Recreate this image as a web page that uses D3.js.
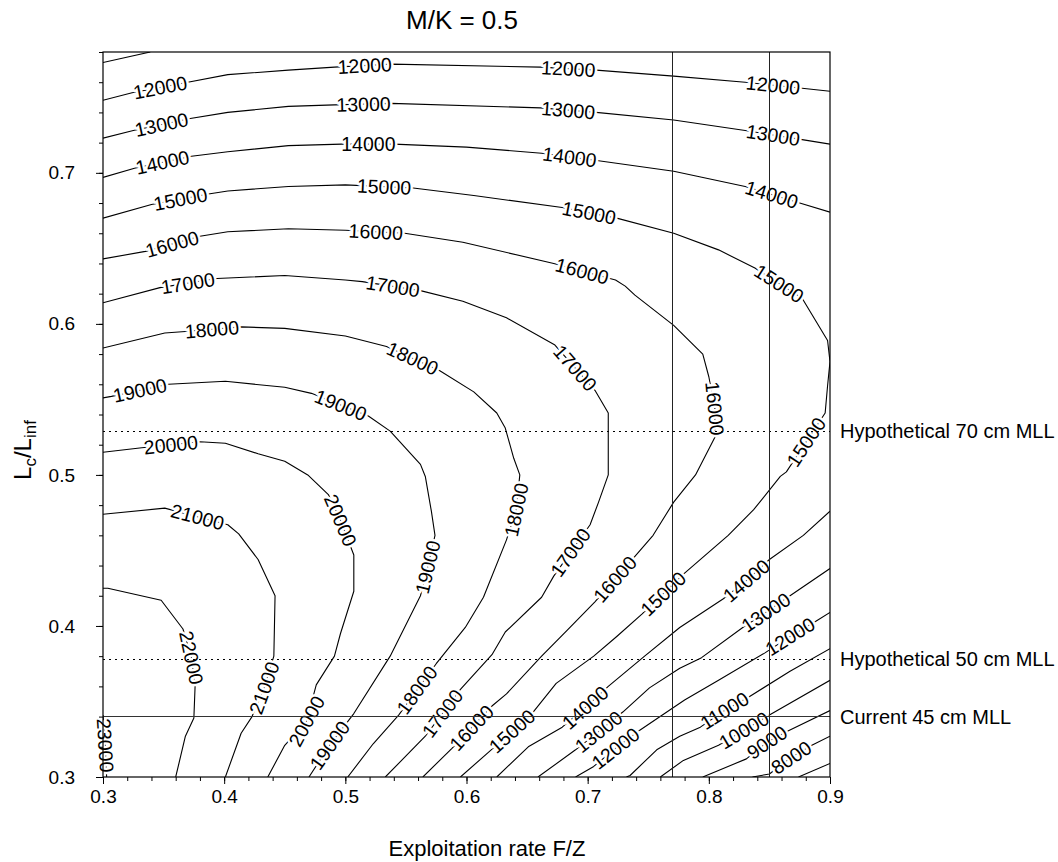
<!DOCTYPE html>
<html>
<head>
<meta charset="utf-8">
<script src="https://cdn.jsdelivr.net/npm/d3@7"></script>
<style>
  body { margin: 0; background: #fff; }
  text { font-family: "Liberation Sans", Arial, Helvetica, sans-serif; fill: #000; }
</style>
</head>
<body>
<svg id="chart" width="1058" height="862"></svg>
<script>
// Equal-yield contours (yield per recruit) over exploitation rate F/Z and Lc/Linf, M/K = 0.5.
// Each level holds one or more polylines of [F/Z, Lc/Linf] points.
const levels = [7000, 8000, 9000, 10000, 11000, 12000, 13000, 14000, 15000,
                16000, 17000, 18000, 19000, 20000, 21000, 22000, 23000];

const c7000 = [[[0.874,0.300],[0.900,0.309]]];
const c8000 = [[[0.900,0.327],[0.885,0.321],[0.868,0.313],[0.850,0.302],[0.836,0.300]]];
const c9000 = [[[0.900,0.344],[0.864,0.330],[0.848,0.323],[0.831,0.312],[0.795,0.300]]];
const c10000 = [[[0.900,0.364],[0.850,0.341],[0.829,0.331],[0.808,0.321],[0.779,0.311],[0.760,0.300]]];
const c11000 = [
  [[0.300,0.773],[0.339,0.780]],
  [[0.900,0.385],[0.867,0.370],[0.833,0.353],[0.813,0.344],[0.793,0.333],[0.776,0.327],[0.757,0.318],[0.735,0.301],[0.732,0.300]]
];
const c12000 = [
  [[0.300,0.748],[0.324,0.753],[0.370,0.760],[0.403,0.765],[0.453,0.768],[0.491,0.770],[0.538,0.772],
   [0.661,0.770],[0.707,0.768],[0.771,0.764],[0.830,0.760],[0.877,0.756],[0.900,0.754]],
  [[0.900,0.409],[0.888,0.403],[0.867,0.393],[0.846,0.382],[0.808,0.364],[0.780,0.351],[0.743,0.331],
   [0.723,0.319],[0.705,0.307],[0.690,0.300]]
];
const c13000 = [
  [[0.300,0.723],[0.325,0.728],[0.372,0.736],[0.403,0.740],[0.453,0.744],[0.491,0.745],[0.538,0.746],
   [0.661,0.743],[0.707,0.740],[0.771,0.735],[0.830,0.728],[0.877,0.722],[0.900,0.719]],
  [[0.900,0.438],[0.867,0.420],[0.847,0.409],[0.828,0.399],[0.794,0.379],[0.776,0.372],[0.751,0.359],
   [0.729,0.343],[0.709,0.330],[0.690,0.318],[0.659,0.300]]
];
const c14000 = [
  [[0.300,0.697],[0.326,0.703],[0.373,0.711],[0.403,0.714],[0.453,0.718],[0.497,0.719],[0.540,0.719],
   [0.600,0.717],[0.662,0.713],[0.709,0.708],[0.771,0.701],[0.830,0.691],[0.875,0.680],[0.900,0.674]],
  [[0.900,0.476],[0.878,0.460],[0.850,0.444],[0.831,0.430],[0.812,0.418],[0.776,0.399],[0.747,0.380],
   [0.717,0.360],[0.698,0.346],[0.679,0.333],[0.651,0.320],[0.625,0.300]]
];
const c15000 = [
  [[0.300,0.670],[0.340,0.679],[0.387,0.686],[0.403,0.688],[0.453,0.691],[0.500,0.692],[0.556,0.690],
   [0.606,0.685],[0.679,0.677],[0.724,0.670],[0.771,0.660],[0.808,0.649],[0.838,0.637],[0.877,0.617],
   [0.898,0.589],[0.900,0.575],[0.898,0.559],[0.896,0.541],[0.864,0.502],[0.859,0.499],[0.837,0.477],
   [0.816,0.460],[0.780,0.435],[0.745,0.408],[0.724,0.393],[0.705,0.380],[0.674,0.362],[0.655,0.343],
   [0.619,0.317],[0.595,0.300]]
];
const c16000 = [
  [[0.300,0.643],[0.335,0.648],[0.380,0.658],[0.403,0.661],[0.453,0.663],[0.500,0.662],[0.549,0.660],
   [0.597,0.654],[0.672,0.640],[0.723,0.629],[0.731,0.625],[0.739,0.619],[0.771,0.599],[0.795,0.580],
   [0.800,0.565],[0.805,0.544],[0.805,0.525],[0.789,0.500],[0.771,0.482],[0.754,0.460],[0.739,0.446],
   [0.706,0.416],[0.683,0.397],[0.662,0.380],[0.633,0.355],[0.621,0.347],[0.588,0.319],[0.564,0.300]]
];
const c17000 = [
  [[0.300,0.614],[0.347,0.624],[0.394,0.630],[0.450,0.632],[0.500,0.629],[0.514,0.628],[0.562,0.622],
   [0.597,0.615],[0.633,0.604],[0.673,0.586],[0.706,0.556],[0.717,0.541],[0.717,0.500],[0.709,0.482],
   [0.702,0.467],[0.672,0.433],[0.662,0.419],[0.632,0.396],[0.621,0.381],[0.595,0.358],[0.566,0.327],
   [0.533,0.300]]
];
const c18000 = [
  [[0.300,0.584],[0.351,0.594],[0.368,0.595],[0.414,0.598],[0.450,0.597],[0.500,0.592],[0.534,0.585],
   [0.578,0.569],[0.606,0.555],[0.625,0.541],[0.632,0.531],[0.639,0.511],[0.644,0.500],[0.641,0.477],
   [0.633,0.457],[0.614,0.419],[0.599,0.399],[0.575,0.375],[0.544,0.341],[0.523,0.322],[0.502,0.300]]
];
const c19000 = [
  [[0.300,0.551],[0.307,0.552],[0.354,0.560],[0.401,0.562],[0.450,0.558],[0.472,0.554],[0.519,0.539],
   [0.537,0.529],[0.562,0.507],[0.566,0.499],[0.571,0.476],[0.574,0.460],[0.568,0.439],[0.562,0.420],
   [0.537,0.380],[0.507,0.342],[0.487,0.321],[0.470,0.300]]
];
const c20000 = [
  [[0.300,0.515],[0.332,0.518],[0.380,0.522],[0.401,0.521],[0.428,0.514],[0.450,0.509],[0.469,0.500],
   [0.486,0.487],[0.496,0.470],[0.507,0.447],[0.507,0.423],[0.496,0.395],[0.491,0.380],[0.476,0.361],
   [0.468,0.337],[0.450,0.321],[0.436,0.300]]
];
const c21000 = [
  [[0.300,0.474],[0.351,0.478],[0.403,0.467],[0.412,0.461],[0.428,0.444],[0.442,0.420],[0.441,0.380],
   [0.433,0.359],[0.423,0.340],[0.414,0.329],[0.401,0.300]]
];
const c22000 = [
  [[0.300,0.425],[0.304,0.425],[0.348,0.417],[0.366,0.398],[0.373,0.379],[0.376,0.360],[0.375,0.339],
   [0.368,0.327],[0.360,0.300]]
];
const c23000 = [[[0.300,0.341],[0.302,0.321],[0.303,0.300]]];

// Inline contour labels: [level, F/Z, Lc/Linf]
const contourLabels = [
  [12000,0.347,0.757],[12000,0.516,0.771],[12000,0.684,0.769],[12000,0.853,0.758],
  [13000,0.348,0.733],[13000,0.515,0.746],[13000,0.684,0.742],[13000,0.853,0.725],
  [14000,0.349,0.707],[14000,0.519,0.718],[14000,0.685,0.710],[14000,0.852,0.686],
  [15000,0.364,0.682],[15000,0.532,0.691],[15000,0.701,0.673],[15000,0.859,0.628],
  [15000,0.880,0.522],[15000,0.764,0.420],[15000,0.638,0.330],
  [16000,0.357,0.653],[16000,0.525,0.659],[16000,0.695,0.634],[16000,0.805,0.544],
  [16000,0.724,0.430],[16000,0.605,0.332],
  [17000,0.370,0.627],[17000,0.539,0.624],[17000,0.690,0.571],[17000,0.687,0.448],[17000,0.582,0.341],
  [18000,0.390,0.595],[18000,0.556,0.578],[18000,0.641,0.477],[18000,0.560,0.357],
  [19000,0.331,0.554],[19000,0.496,0.546],[19000,0.568,0.439],[19000,0.487,0.321],
  [20000,0.356,0.520],[20000,0.496,0.470],[20000,0.468,0.337],
  [21000,0.378,0.472],[21000,0.433,0.359],
  [22000,0.373,0.379],
  [23000,0.302,0.321],
  [14000,0.831,0.430],[14000,0.698,0.346],
  [13000,0.847,0.409],[13000,0.709,0.330],
  [12000,0.867,0.393],[12000,0.723,0.319],
  [11000,0.813,0.344],[10000,0.829,0.331],[9000,0.848,0.323],[8000,0.868,0.313]
];

// Reference management scenarios
const mllNames  = ["Current 45 cm MLL", "Hypothetical 50 cm MLL", "Hypothetical 70 cm MLL"];
const mllLcLinf = [0.34, 0.378, 0.529];
const mllDashed = [false, true, true];
const refFZ = [0.77, 0.85];

const xTickValues = [0.3, 0.4, 0.5, 0.6, 0.7, 0.8, 0.9];
const yTickValues = [0.3, 0.4, 0.5, 0.6, 0.7];

const contourLines = {
  7000: c7000, 8000: c8000, 9000: c9000, 10000: c10000, 11000: c11000, 12000: c12000,
  13000: c13000, 14000: c14000, 15000: c15000, 16000: c16000, 17000: c17000, 18000: c18000,
  19000: c19000, 20000: c20000, 21000: c21000, 22000: c22000, 23000: c23000
};

const plotL = 103, plotR = 830, plotT = 52, plotB = 777;
const svg = d3.select("#chart");

const x = d3.scaleLinear().domain([0.3, 0.9]).range([plotL, plotR]);
const y = d3.scaleLinear().domain([0.3, 0.78]).range([plotB, plotT]);

svg.append("defs").append("clipPath").attr("id", "plotClip")
  .append("rect").attr("x", plotL).attr("y", plotT)
  .attr("width", plotR - plotL).attr("height", plotB - plotT);

// contour lines
const line = d3.line().x(d => x(d[0])).y(d => y(d[1]));
const gLines = svg.append("g").attr("clip-path", "url(#plotClip)");
levels.forEach(lv => {
  contourLines[lv].forEach(pts => {
    gLines.append("path").attr("d", line(pts))
      .attr("fill", "none").attr("stroke", "#000").attr("stroke-width", 1.1)
      .attr("stroke-linejoin", "round");
  });
});

// place each label on its line, oriented along the local direction
function toPx(pts) { return pts.map(p => [x(p[0]), y(p[1])]); }
function pointAt(P, s) {
  let acc = 0;
  for (let i = 0; i < P.length - 1; i++) {
    const L = Math.hypot(P[i+1][0] - P[i][0], P[i+1][1] - P[i][1]);
    if (acc + L >= s) {
      const t = L ? (s - acc) / L : 0;
      return [P[i][0] + t * (P[i+1][0] - P[i][0]), P[i][1] + t * (P[i+1][1] - P[i][1])];
    }
    acc += L;
  }
  return P[P.length - 1];
}
function labelPose(lv, fx, fy) {
  const lx = x(fx), ly = y(fy);
  let best = null;
  contourLines[lv].forEach(pts => {
    const P = toPx(pts);
    let acc = 0;
    for (let i = 0; i < P.length - 1; i++) {
      const [x0, y0] = P[i], [x1, y1] = P[i+1];
      const dx = x1 - x0, dy = y1 - y0, L = Math.hypot(dx, dy);
      let t = L ? ((lx - x0) * dx + (ly - y0) * dy) / (L * L) : 0;
      t = Math.max(0, Math.min(1, t));
      const px = x0 + t * dx, py = y0 + t * dy, d = Math.hypot(px - lx, py - ly);
      if (!best || d < best.d) best = { d, P, s: acc + t * L, px, py };
      acc += L;
    }
  });
  const h = 20;
  const a = pointAt(best.P, Math.max(0, best.s - h));
  const b = pointAt(best.P, best.s + h);
  let ang = Math.atan2(b[1] - a[1], b[0] - a[0]) * 180 / Math.PI;
  if (ang > 90) ang -= 180;
  if (ang <= -90) ang += 180;
  return { x: best.px, y: best.py, ang };
}

const gLab = svg.append("g");
contourLabels.forEach(([lv, fx, fy]) => {
  const p = labelPose(lv, fx, fy);
  gLab.append("text")
    .attr("transform", `translate(${p.x},${p.y}) rotate(${p.ang})`)
    .attr("text-anchor", "middle").attr("dominant-baseline", "central")
    .attr("font-size", 19.5)
    .attr("stroke", "#fff").attr("stroke-width", 5).attr("stroke-linejoin", "round")
    .attr("paint-order", "stroke")
    .text(lv);
});

// reference lines: minimum legal lengths and exploitation rates
const gRef = svg.append("g").attr("shape-rendering", "crispEdges");
mllLcLinf.forEach((v, i) => {
  gRef.append("line").attr("x1", plotL).attr("x2", plotR).attr("y1", y(v)).attr("y2", y(v))
    .attr("stroke", mllDashed[i] ? "#000" : "#333").attr("stroke-width", 1)
    .attr("stroke-dasharray", mllDashed[i] ? "1.5,4.5" : null);
  gRef.append("text").attr("x", plotR + 10).attr("y", y(v))
    .attr("dominant-baseline", "central").attr("font-size", 20)
    .text(mllNames[i]);
});
refFZ.forEach(v => {
  gRef.append("line").attr("x1", x(v)).attr("x2", x(v)).attr("y1", plotT).attr("y2", plotB)
    .attr("stroke", "#222").attr("stroke-width", 1);
});

// axes
function styleAxis(g) {
  g.select(".domain").remove();
  g.selectAll(".tick line").attr("stroke", "#000");
  g.selectAll("text").attr("font-size", 19).attr("font-family", '"Liberation Sans", Arial, sans-serif').attr("fill", "#000");
}
const xMinor = d3.range(15, 46).map(i => i / 50);
const yMinor = d3.range(15, 40).map(i => i / 50);
svg.append("g").attr("transform", `translate(0,${plotB})`)
  .call(d3.axisBottom(x).tickValues(xMinor).tickSize(4).tickFormat("")).call(styleAxis);
svg.append("g").attr("transform", `translate(0,${plotB})`)
  .call(d3.axisBottom(x).tickValues(xTickValues).tickSize(7).tickPadding(6).tickFormat(d3.format(".1f")))
  .call(styleAxis);
svg.append("g").attr("transform", `translate(${plotL},0)`)
  .call(d3.axisLeft(y).tickValues(yMinor).tickSize(4).tickFormat("")).call(styleAxis);
svg.append("g").attr("transform", `translate(${plotL},0)`)
  .call(d3.axisLeft(y).tickValues(yTickValues).tickSize(7).tickPadding(21).tickFormat(d3.format(".1f")))
  .call(styleAxis);

// frame
svg.append("rect").attr("x", plotL).attr("y", plotT)
  .attr("width", plotR - plotL).attr("height", plotB - plotT)
  .attr("fill", "none").attr("stroke", "#000").attr("stroke-width", 1.2);

// titles
svg.append("text").attr("x", 462).attr("y", 29)
  .attr("text-anchor", "middle").attr("font-size", 26).text("M/K = 0.5");
svg.append("text").attr("x", 487).attr("y", 856)
  .attr("text-anchor", "middle").attr("font-size", 22).text("Exploitation rate F/Z");
const yt = svg.append("text").attr("transform", "translate(31,450) rotate(-90)")
  .attr("text-anchor", "middle").attr("font-size", 24);
yt.append("tspan").text("L");
yt.append("tspan").attr("font-size", 17).attr("dy", 5).text("c");
yt.append("tspan").attr("dy", -5).text("/L");
yt.append("tspan").attr("font-size", 17).attr("dy", 5).text("inf");
</script>
</body>
</html>
